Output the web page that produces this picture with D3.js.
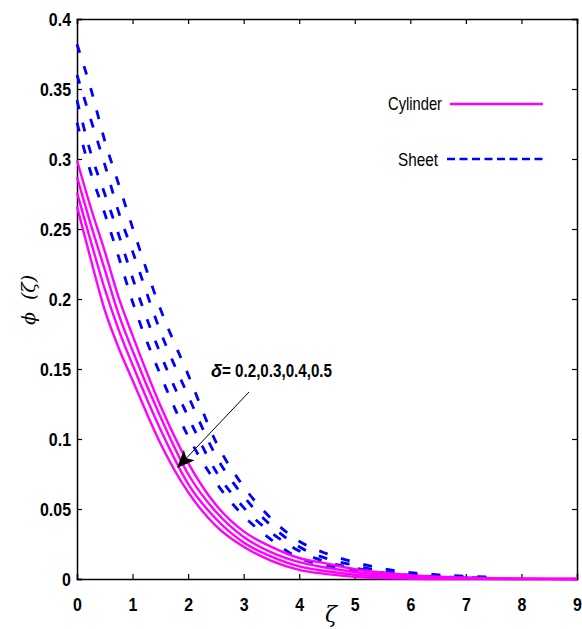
<!DOCTYPE html>
<html>
<head>
<meta charset="utf-8">
<script src="https://cdn.jsdelivr.net/npm/d3@7"></script>
<style>
  html, body { margin: 0; padding: 0; background: #fff; }
  svg { display: block; }
</style>
</head>
<body>
<div id="chart"></div>
<script>
// ---- data ----
const zetaCyl = [0,0.25,0.5,0.75,1,1.5,2,2.5,3,3.5,4,4.5,5,5.5,6,6.5,7,7.5,8,8.5,9];
const cylD1 = [0.266,0.228,0.192,0.165,0.142,0.097,0.062,0.038,0.023,0.013,0.0065,0.0035,0.0015,0.0006,0.0002,0,0,0,0,0,0];
const cylD2 = [0.276,0.241,0.207,0.178,0.153,0.107,0.068,0.043,0.026,0.016,0.009,0.0055,0.003,0.0018,0.001,0.0006,0.0003,0.0001,0,0,0];
const cylD3 = [0.287,0.253,0.221,0.189,0.163,0.116,0.075,0.048,0.030,0.019,0.012,0.008,0.005,0.003,0.0018,0.001,0.0006,0.0003,0.0002,0.0001,0];
const cylD4 = [0.299,0.265,0.234,0.201,0.174,0.124,0.083,0.053,0.034,0.023,0.015,0.011,0.007,0.0045,0.0028,0.0017,0.001,0.0006,0.0003,0.0001,0];

const zetaSheet = [0,0.25,0.5,0.75,1,1.5,2,2.5,3,3.5,4,4.5,5,5.5,6,6.5,7,7.5];
const sheetD1 = [0.326,0.290,0.261,0.230,0.198,0.146,0.102,0.069,0.045,0.028,0.015,0.0095,0.0057,0.0035,0.002,0.0012,0.0007,0.0004];
const sheetD2 = [0.342,0.304,0.275,0.246,0.215,0.161,0.116,0.077,0.051,0.033,0.020,0.012,0.0078,0.0045,0.0027,0.0016,0.001,0.0006];
const sheetD3 = [0.360,0.328,0.296,0.262,0.234,0.177,0.131,0.088,0.059,0.038,0.023,0.0145,0.0098,0.0055,0.0033,0.002,0.0012,0.0008];
const sheetD4 = [0.382,0.350,0.313,0.282,0.251,0.193,0.146,0.098,0.066,0.043,0.027,0.018,0.012,0.0075,0.0045,0.003,0.002,0.0012];

const xTicks = [0,1,2,3,4,5,6,7,8,9];
const yTicks = [0,0.05,0.1,0.15,0.2,0.25,0.3,0.35,0.4];
const legendLabels = ["Cylinder", "Sheet"];
const annotationSymbol = "δ";
const annotationText = "= 0.2,0.3,0.4,0.5";

// ---- layout ----
const W = 582, H = 629;
const mLeft = 77, mRight = 577, mTop = 19, mBottom = 579;

const svg = d3.select("#chart").append("svg").attr("width", W).attr("height", H);

const x = d3.scaleLinear().domain([0, 9]).range([mLeft, mRight]);
const y = d3.scaleLinear().domain([0, 0.4]).range([mBottom, mTop]);

const tickFont = "'Liberation Sans', Arial, sans-serif";
const squeeze = 0.84;

// axes (ticks inward)
const gx = svg.append("g").attr("transform", `translate(0,${mBottom})`)
  .call(d3.axisBottom(x).tickValues(xTicks).tickSize(-5).tickPadding(19).tickFormat(d3.format("d")));
const gxt = svg.append("g").attr("transform", `translate(0,${mTop})`)
  .call(d3.axisTop(x).tickValues(xTicks).tickSize(-5).tickFormat(""));
const gy = svg.append("g").attr("transform", `translate(${mLeft},0)`)
  .call(d3.axisLeft(y).tickValues(yTicks).tickSize(-5).tickPadding(6).tickFormat(d => d === 0 ? "0" : String(+d.toFixed(2))));
const gyr = svg.append("g").attr("transform", `translate(${mRight},0)`)
  .call(d3.axisRight(y).tickValues(yTicks).tickSize(-5).tickFormat(""));

[gx, gxt, gy, gyr].forEach(g => {
  g.select(".domain").attr("stroke", "#000").attr("stroke-width", 1.5);
  g.selectAll(".tick line").attr("stroke", "#000").attr("stroke-width", 1.2);
  g.selectAll(".tick text")
    .attr("fill", "#000")
    .style("font-family", tickFont)
    .style("font-weight", "bold")
    .style("font-size", "19px");
});
gx.selectAll(".tick text").attr("dy", "0.71em").attr("transform", `scale(${squeeze},1)`);
gy.selectAll(".tick text").attr("x", -6 / squeeze).attr("transform", `scale(${squeeze},1)`);

// curves
const line = d3.line().x(d => x(d[0])).y(d => y(d[1])).curve(d3.curveMonotoneX);

const sheetSeries = [sheetD1, sheetD2, sheetD3, sheetD4];
const cylSeries = [cylD1, cylD2, cylD3, cylD4];

const plot = svg.append("g");
plot.selectAll("path.sheet").data(sheetSeries).enter().append("path")
  .attr("class", "sheet")
  .attr("d", s => line(zetaSheet.map((z, i) => [z, s[i]])))
  .attr("fill", "none")
  .attr("stroke", "#0000ff")
  .attr("stroke-width", 2.8)
  .attr("stroke-dasharray", "9,14");

plot.selectAll("path.cyl").data(cylSeries).enter().append("path")
  .attr("class", "cyl")
  .attr("d", s => line(zetaCyl.map((z, i) => [z, s[i]])))
  .attr("fill", "none")
  .attr("stroke", "#ff00ff")
  .attr("stroke-width", 2.4);

// legend
const legendFont = "'Liberation Sans', Arial, sans-serif";
svg.append("text").attr("x", 388).attr("y", 110)
  .attr("textLength", 54).attr("lengthAdjust", "spacingAndGlyphs")
  .style("font-family", legendFont).style("font-size", "19px")
  .text(legendLabels[0]);
svg.append("line").attr("x1", 450).attr("x2", 543).attr("y1", 104).attr("y2", 104)
  .attr("stroke", "#ff00ff").attr("stroke-width", 2.4);
svg.append("text").attr("x", 398).attr("y", 166)
  .attr("textLength", 40).attr("lengthAdjust", "spacingAndGlyphs")
  .style("font-family", legendFont).style("font-size", "19px")
  .text(legendLabels[1]);
svg.append("line").attr("x1", 447).attr("x2", 545).attr("y1", 159).attr("y2", 159)
  .attr("stroke", "#0000ff").attr("stroke-width", 2.4).attr("stroke-dasharray", "8,4.5");

// annotation
svg.append("text").attr("x", 211).attr("y", 377)
  .style("font-family", tickFont).style("font-weight", "bold").style("font-style", "italic").style("font-size", "18px")
  .text(annotationSymbol);
svg.append("text").attr("x", 222).attr("y", 377)
  .attr("textLength", 110).attr("lengthAdjust", "spacingAndGlyphs")
  .style("font-family", tickFont).style("font-weight", "bold").style("font-size", "18px")
  .text(annotationText);

svg.append("defs").append("marker")
  .attr("id", "arrow").attr("viewBox", "0 0 12 10").attr("refX", 11).attr("refY", 5)
  .attr("markerWidth", 20).attr("markerHeight", 15).attr("markerUnits", "userSpaceOnUse")
  .attr("orient", "auto")
  .append("path").attr("d", "M0,0 L12,5 L0,10 L3,5 Z").attr("fill", "#000");
svg.append("line").attr("x1", 249).attr("y1", 392).attr("x2", 178).attr("y2", 467)
  .attr("stroke", "#000").attr("stroke-width", 1).attr("marker-end", "url(#arrow)");

// axis labels
svg.append("text").attr("x", 331).attr("y", 622).attr("text-anchor", "middle")
  .style("font-family", "'DejaVu Serif', serif").style("font-style", "italic").style("font-size", "22px")
  .text("ζ");
svg.append("text").attr("transform", "translate(35,300) rotate(-90)").attr("text-anchor", "middle")
  .style("font-family", "'DejaVu Serif', serif").style("font-style", "italic").style("font-size", "19px")
  .attr("xml:space", "preserve")
  .text("ϕ  (ζ)");
</script>
</body>
</html>
